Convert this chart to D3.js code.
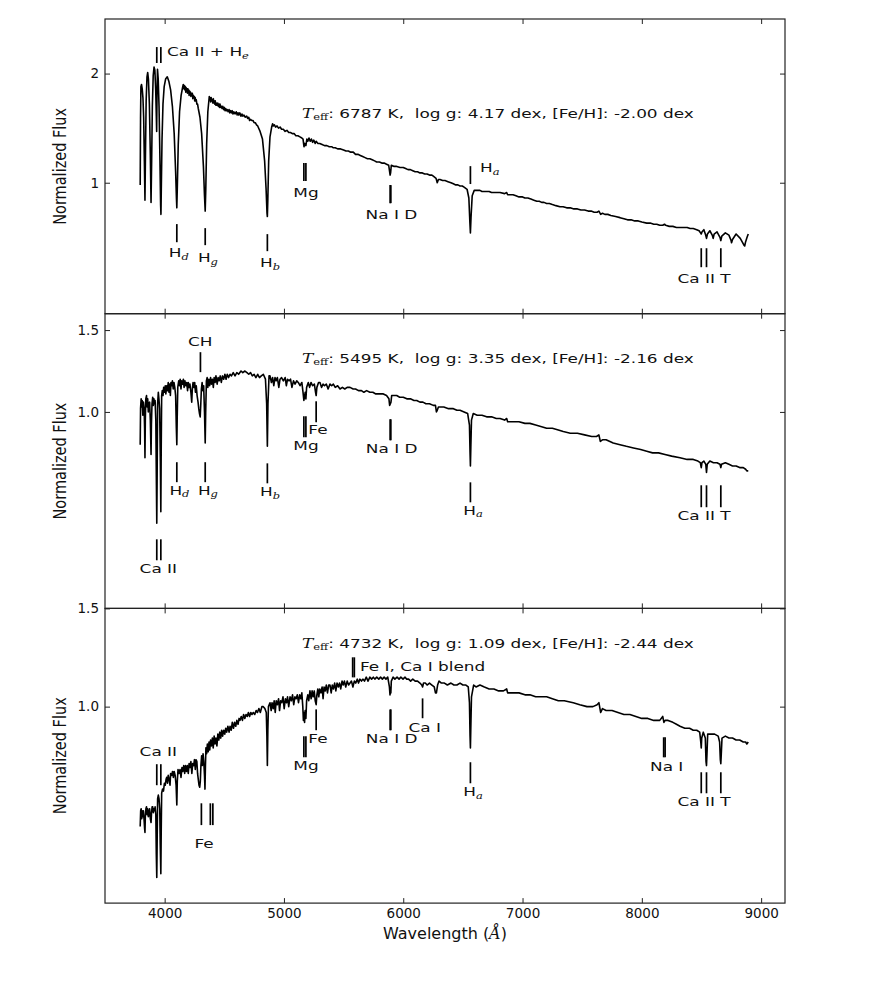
<!DOCTYPE html>
<html>
<head>
<meta charset="utf-8">
<script src="https://cdn.jsdelivr.net/npm/d3@7"></script>
<style>
  body { margin: 0; background: #fff; }
  text { font-family: "DejaVu Sans", sans-serif; fill: #111; }
</style>
</head>
<body>
<div id="chart"></div>
<script>
// ---- data ----
const waveLimits = [3500, 9200]
const waveTicks = [4000, 5000, 6000, 7000, 8000, 9000]
const fluxLimits = [[-0.2, 2.5], [-0.2, 1.6], [0, 1.5]]
const fluxTicks = [[1, 2], [1.0, 1.5], [1.0, 1.5]]
const fluxTickLabels = [["1", "2"], ["1.0", "1.5"], ["1.0", "1.5"]]

const teff = [6787, 5495, 4732]
const logg = ["4.17", "3.35", "1.09"]
const feh = ["-2.00", "-2.16", "-2.44"]
// where each parameter line starts [wavelength, flux]
const headerAt = [[5151, 1.637], [5151, 1.328], [5151, 1.322]]

// hot star, Teff 6787 K
const spec1 = [[3795,0.98],[3798,1.60],[3801,1.88],[3806,1.90],[3812,1.86],[3818,1.78],[3824,1.60],[3830,1.20],[3835,0.84],[3839,1.25],[3845,1.75],[3852,1.97],[3858,2.01],[3864,1.95],[3872,1.72],[3880,1.25],[3886,0.82],[3891,1.20],[3897,1.70],[3904,1.98],[3911,2.06],[3918,2.03],[3925,1.85],[3930,1.62],[3933,1.47],[3936,1.80],[3940,2.04],[3946,1.95],[3953,1.70],[3960,1.25],[3966,0.80],[3969,0.71],[3972,0.95],[3978,1.40],[3986,1.72],[3996,1.88],[4008,1.95],[4022,1.97],[4035,1.93],[4050,1.85],[4065,1.70],[4080,1.45],[4092,1.10],[4099,0.85],[4102,0.77],[4106,0.95],[4114,1.35],[4125,1.65],[4138,1.80],[4150,1.87],[4156,1.90],[4162,1.86],[4166,1.89],[4170,1.85],[4174,1.88],[4177,1.83],[4181,1.87],[4184,1.84],[4188,1.86],[4191,1.82],[4195,1.86],[4198,1.83],[4202,1.85],[4205,1.80],[4209,1.84],[4212,1.81],[4216,1.83],[4220,1.79],[4224,1.82],[4228,1.80],[4232,1.82],[4236,1.77],[4240,1.80],[4245,1.78],[4249,1.79],[4252,1.75],[4256,1.78],[4260,1.75],[4265,1.76],[4270,1.72],[4276,1.72],[4282,1.68],[4296,1.60],[4310,1.45],[4325,1.15],[4334,0.88],[4340,0.74],[4345,0.95],[4352,1.35],[4362,1.65],[4374,1.79],[4378,1.76],[4381,1.78],[4386,1.74],[4390,1.78],[4395,1.75],[4400,1.76],[4404,1.73],[4408,1.77],[4412,1.73],[4415,1.75],[4420,1.72],[4424,1.75],[4429,1.71],[4433,1.73],[4440,1.71],[4445,1.73],[4450,1.70],[4455,1.72],[4460,1.69],[4464,1.72],[4470,1.69],[4475,1.70],[4481,1.68],[4487,1.70],[4494,1.67],[4500,1.69],[4506,1.66],[4512,1.68],[4518,1.66],[4525,1.67],[4532,1.65],[4540,1.67],[4546,1.64],[4552,1.66],[4560,1.64],[4566,1.66],[4573,1.63],[4580,1.65],[4590,1.63],[4600,1.65],[4608,1.62],[4615,1.64],[4622,1.62],[4630,1.64],[4640,1.61],[4648,1.63],[4656,1.61],[4665,1.62],[4676,1.60],[4688,1.61],[4696,1.59],[4705,1.60],[4712,1.57],[4720,1.58],[4730,1.57],[4740,1.57],[4750,1.55],[4760,1.55],[4770,1.53],[4780,1.52],[4800,1.47],[4820,1.40],[4838,1.20],[4850,0.95],[4858,0.72],[4861,0.69],[4865,0.85],[4872,1.20],[4883,1.42],[4897,1.51],[4905,1.54],[4911,1.52],[4920,1.53],[4930,1.51],[4942,1.52],[4955,1.50],[4968,1.51],[4980,1.49],[4995,1.49],[5010,1.47],[5025,1.48],[5040,1.46],[5055,1.46],[5070,1.45],[5085,1.45],[5100,1.43],[5117,1.43],[5134,1.42],[5150,1.41],[5160,1.40],[5168,1.33],[5175,1.36],[5184,1.34],[5192,1.40],[5200,1.38],[5210,1.41],[5220,1.38],[5230,1.40],[5240,1.37],[5250,1.39],[5262,1.36],[5270,1.38],[5285,1.36],[5300,1.36],[5320,1.35],[5340,1.34],[5360,1.34],[5380,1.33],[5400,1.33],[5414,1.32],[5430,1.32],[5450,1.31],[5475,1.31],[5500,1.30],[5520,1.29],[5540,1.29],[5560,1.28],[5581,1.28],[5600,1.26],[5620,1.26],[5640,1.25],[5660,1.24],[5680,1.23],[5700,1.22],[5720,1.22],[5740,1.21],[5760,1.20],[5777,1.19],[5800,1.19],[5820,1.18],[5840,1.18],[5860,1.17],[5878,1.16],[5886,1.10],[5890,1.07],[5894,1.09],[5900,1.16],[5920,1.15],[5940,1.15],[5973,1.14],[6000,1.14],[6020,1.13],[6040,1.12],[6060,1.12],[6080,1.11],[6100,1.10],[6120,1.10],[6140,1.09],[6160,1.09],[6180,1.08],[6200,1.08],[6220,1.07],[6240,1.07],[6252,1.06],[6275,1.04],[6285,1.00],[6295,1.03],[6308,1.03],[6330,1.02],[6350,1.02],[6375,1.01],[6400,1.00],[6420,0.99],[6440,0.98],[6458,0.98],[6476,0.97],[6495,0.97],[6510,0.96],[6535,0.94],[6550,0.86],[6558,0.65],[6563,0.54],[6568,0.68],[6578,0.88],[6595,0.93],[6616,0.93],[6643,0.93],[6660,0.92],[6680,0.92],[6700,0.92],[6720,0.92],[6740,0.91],[6760,0.91],[6785,0.91],[6811,0.91],[6850,0.90],[6867,0.91],[6875,0.89],[6900,0.89],[6920,0.89],[6945,0.88],[6970,0.87],[7000,0.87],[7020,0.86],[7045,0.86],[7070,0.85],[7095,0.84],[7120,0.83],[7140,0.83],[7160,0.82],[7180,0.82],[7202,0.81],[7225,0.81],[7250,0.80],[7280,0.79],[7314,0.78],[7340,0.78],[7370,0.77],[7400,0.77],[7430,0.76],[7460,0.76],[7490,0.75],[7520,0.75],[7550,0.74],[7575,0.74],[7600,0.73],[7625,0.73],[7640,0.74],[7655,0.71],[7670,0.72],[7690,0.71],[7715,0.71],[7740,0.70],[7780,0.69],[7817,0.68],[7850,0.67],[7880,0.66],[7910,0.66],[7940,0.65],[7970,0.65],[8000,0.64],[8041,0.63],[8070,0.63],[8100,0.62],[8125,0.62],[8150,0.61],[8175,0.61],[8190,0.62],[8200,0.61],[8230,0.60],[8260,0.60],[8290,0.59],[8320,0.59],[8350,0.59],[8380,0.59],[8405,0.58],[8431,0.58],[8460,0.57],[8480,0.56],[8492,0.54],[8498,0.53],[8505,0.55],[8520,0.57],[8535,0.52],[8542,0.49],[8550,0.53],[8570,0.56],[8590,0.52],[8598,0.49],[8606,0.53],[8630,0.55],[8655,0.50],[8662,0.47],[8670,0.51],[8700,0.54],[8730,0.52],[8748,0.47],[8752,0.45],[8760,0.48],[8790,0.53],[8825,0.49],[8855,0.43],[8862,0.42],[8870,0.46],[8882,0.50],[8892,0.53]]

// Teff 5495 K
const spec2 = [[3795,0.80],[3798,1.02],[3803,1.08],[3808,1.03],[3812,1.07],[3817,0.98],[3822,1.06],[3828,1.02],[3832,0.90],[3835,0.72],[3838,0.95],[3842,1.08],[3848,1.10],[3853,1.03],[3858,1.08],[3863,1.00],[3868,1.05],[3874,1.06],[3880,0.95],[3886,0.74],[3889,0.92],[3894,1.05],[3900,1.09],[3905,1.04],[3910,1.08],[3915,1.05],[3920,1.07],[3926,0.95],[3931,0.55],[3934,0.32],[3937,0.60],[3941,1.05],[3947,1.12],[3952,1.08],[3958,1.02],[3964,0.70],[3968,0.39],[3971,0.75],[3975,1.10],[3980,1.13],[3986,1.10],[3992,1.15],[3998,1.12],[4005,1.16],[4010,1.11],[4017,1.16],[4023,1.13],[4030,1.18],[4036,1.12],[4043,1.17],[4048,1.10],[4053,1.18],[4059,1.16],[4065,1.19],[4072,1.14],[4078,1.18],[4085,1.15],[4092,1.10],[4098,0.90],[4102,0.80],[4105,0.95],[4110,1.15],[4118,1.19],[4125,1.16],[4130,1.20],[4137,1.14],[4143,1.19],[4150,1.17],[4157,1.20],[4163,1.15],[4170,1.19],[4177,1.16],[4185,1.18],[4192,1.13],[4198,1.18],[4205,1.15],[4212,1.17],[4220,1.12],[4227,1.06],[4232,1.14],[4238,1.18],[4245,1.15],[4252,1.18],[4258,1.12],[4265,1.16],[4272,1.10],[4280,1.06],[4286,1.02],[4292,0.99],[4298,0.97],[4303,1.05],[4308,1.14],[4314,1.18],[4320,1.13],[4327,1.16],[4334,1.00],[4340,0.81],[4344,1.00],[4350,1.19],[4356,1.21],[4362,1.15],[4370,1.20],[4377,1.16],[4385,1.21],[4392,1.17],[4400,1.20],[4408,1.15],[4415,1.21],[4423,1.18],[4430,1.22],[4440,1.17],[4448,1.21],[4457,1.19],[4466,1.22],[4475,1.18],[4485,1.22],[4495,1.20],[4505,1.23],[4515,1.20],[4525,1.23],[4536,1.21],[4548,1.23],[4560,1.22],[4575,1.24],[4590,1.22],[4605,1.24],[4620,1.23],[4640,1.25],[4655,1.24],[4673,1.25],[4690,1.24],[4705,1.23],[4720,1.24],[4735,1.22],[4750,1.23],[4765,1.21],[4780,1.23],[4795,1.21],[4810,1.22],[4827,1.23],[4845,1.20],[4855,1.05],[4861,0.79],[4866,1.05],[4875,1.22],[4883,1.22],[4895,1.18],[4905,1.21],[4915,1.16],[4925,1.21],[4935,1.19],[4945,1.21],[4957,1.15],[4967,1.20],[4980,1.21],[4995,1.19],[5010,1.21],[5020,1.16],[5030,1.20],[5042,1.19],[5055,1.20],[5067,1.15],[5080,1.19],[5093,1.17],[5107,1.19],[5120,1.18],[5135,1.16],[5150,1.18],[5160,1.12],[5167,1.07],[5172,1.09],[5178,1.12],[5184,1.08],[5190,1.15],[5204,1.18],[5215,1.15],[5227,1.18],[5240,1.16],[5255,1.17],[5265,1.12],[5270,1.10],[5276,1.15],[5290,1.18],[5302,1.18],[5315,1.15],[5328,1.17],[5340,1.16],[5355,1.17],[5370,1.14],[5386,1.17],[5400,1.16],[5414,1.17],[5430,1.15],[5450,1.16],[5470,1.14],[5490,1.15],[5510,1.14],[5530,1.15],[5554,1.15],[5580,1.14],[5600,1.14],[5625,1.13],[5650,1.13],[5670,1.12],[5693,1.13],[5720,1.12],[5745,1.12],[5770,1.11],[5800,1.11],[5833,1.11],[5860,1.10],[5880,1.08],[5886,1.04],[5892,1.05],[5897,1.06],[5903,1.10],[5920,1.10],[5945,1.10],[5970,1.09],[6000,1.09],[6030,1.08],[6060,1.08],[6090,1.07],[6113,1.07],[6140,1.06],[6165,1.06],[6190,1.05],[6220,1.05],[6252,1.04],[6270,1.04],[6278,1.00],[6285,1.01],[6295,1.03],[6308,1.03],[6340,1.03],[6380,1.02],[6420,1.02],[6450,1.01],[6476,1.01],[6510,1.00],[6540,0.99],[6555,0.92],[6560,0.75],[6563,0.67],[6567,0.80],[6572,0.95],[6587,0.99],[6620,0.98],[6660,0.98],[6699,0.97],[6740,0.97],[6780,0.96],[6811,0.96],[6850,0.95],[6867,0.96],[6875,0.94],[6920,0.94],[6970,0.94],[7020,0.93],[7062,0.93],[7110,0.92],[7160,0.91],[7202,0.90],[7250,0.90],[7300,0.89],[7341,0.88],[7400,0.87],[7460,0.87],[7520,0.86],[7580,0.85],[7620,0.85],[7640,0.86],[7652,0.82],[7670,0.83],[7700,0.83],[7760,0.81],[7817,0.80],[7870,0.79],[7930,0.78],[7990,0.77],[8041,0.76],[8090,0.75],[8140,0.75],[8194,0.74],[8250,0.73],[8320,0.72],[8380,0.71],[8431,0.71],[8470,0.70],[8490,0.69],[8498,0.66],[8504,0.69],[8520,0.70],[8536,0.68],[8542,0.63],[8548,0.68],[8570,0.70],[8600,0.69],[8630,0.69],[8655,0.68],[8662,0.66],[8668,0.68],[8700,0.69],[8730,0.68],[8760,0.67],[8790,0.67],[8820,0.66],[8850,0.66],[8870,0.65],[8880,0.64],[8892,0.64]]

// giant, Teff 4732 K
const spec3 = [[3795,0.39],[3799,0.47],[3803,0.48],[3808,0.43],[3812,0.47],[3817,0.44],[3822,0.47],[3828,0.42],[3832,0.38],[3835,0.36],[3838,0.44],[3843,0.48],[3848,0.49],[3853,0.45],[3858,0.48],[3863,0.44],[3869,0.45],[3874,0.48],[3880,0.43],[3886,0.41],[3890,0.46],[3895,0.49],[3900,0.49],[3905,0.46],[3910,0.48],[3915,0.47],[3920,0.49],[3926,0.45],[3930,0.25],[3934,0.13],[3937,0.30],[3941,0.53],[3947,0.55],[3953,0.53],[3959,0.48],[3963,0.30],[3968,0.15],[3971,0.35],[3975,0.56],[3982,0.58],[3990,0.57],[3998,0.61],[4005,0.60],[4012,0.63],[4017,0.64],[4024,0.61],[4030,0.65],[4038,0.63],[4045,0.60],[4050,0.66],[4059,0.65],[4066,0.67],[4073,0.64],[4080,0.67],[4088,0.65],[4096,0.60],[4102,0.50],[4106,0.62],[4112,0.68],[4120,0.66],[4129,0.68],[4137,0.64],[4145,0.69],[4152,0.67],[4160,0.70],[4168,0.66],[4175,0.70],[4183,0.67],[4190,0.70],[4198,0.66],[4205,0.71],[4212,0.69],[4220,0.72],[4228,0.66],[4235,0.71],[4243,0.70],[4250,0.73],[4257,0.68],[4263,0.73],[4270,0.72],[4276,0.66],[4282,0.63],[4288,0.60],[4294,0.59],[4299,0.62],[4304,0.70],[4310,0.75],[4316,0.70],[4322,0.76],[4328,0.72],[4334,0.65],[4338,0.58],[4342,0.70],[4346,0.79],[4352,0.76],[4358,0.81],[4365,0.77],[4372,0.82],[4378,0.78],[4385,0.83],[4392,0.80],[4400,0.84],[4407,0.79],[4415,0.85],[4422,0.81],[4430,0.84],[4438,0.80],[4446,0.86],[4454,0.83],[4462,0.87],[4470,0.84],[4478,0.88],[4486,0.85],[4495,0.88],[4504,0.86],[4512,0.89],[4520,0.87],[4530,0.90],[4540,0.87],[4548,0.90],[4558,0.88],[4567,0.92],[4577,0.89],[4586,0.92],[4596,0.90],[4605,0.93],[4615,0.91],[4624,0.94],[4632,0.93],[4642,0.95],[4652,0.93],[4662,0.96],[4672,0.94],[4682,0.96],[4692,0.95],[4702,0.97],[4712,0.95],[4722,0.97],[4732,0.96],[4743,0.97],[4755,0.96],[4767,0.98],[4778,0.97],[4790,0.99],[4802,0.97],[4815,1.00],[4827,1.00],[4840,0.99],[4852,0.97],[4857,0.85],[4861,0.70],[4865,0.88],[4870,1.00],[4883,1.02],[4893,0.98],[4900,1.02],[4910,0.99],[4918,1.03],[4927,0.97],[4935,1.03],[4945,1.01],[4955,1.04],[4963,0.98],[4972,1.03],[4982,1.02],[4992,1.05],[5002,0.99],[5012,1.04],[5022,1.02],[5030,1.05],[5040,1.00],[5051,1.05],[5062,1.03],[5072,1.06],[5082,1.01],[5092,1.05],[5102,1.04],[5112,1.06],[5122,1.02],[5132,1.06],[5142,1.04],[5150,1.07],[5158,1.00],[5163,0.93],[5168,0.97],[5173,0.92],[5178,0.98],[5184,0.94],[5190,1.03],[5200,1.06],[5208,1.03],[5218,1.08],[5228,1.04],[5236,1.08],[5245,1.05],[5254,1.08],[5262,1.03],[5270,1.01],[5276,1.06],[5284,1.09],[5292,1.05],[5300,1.09],[5310,1.07],[5320,1.10],[5328,1.04],[5336,1.10],[5346,1.08],[5355,1.11],[5365,1.07],[5375,1.11],[5386,1.11],[5396,1.07],[5405,1.11],[5415,1.09],[5425,1.12],[5435,1.08],[5445,1.12],[5456,1.10],[5466,1.12],[5476,1.09],[5487,1.13],[5497,1.11],[5507,1.13],[5518,1.10],[5530,1.13],[5542,1.11],[5554,1.12],[5566,1.13],[5578,1.10],[5590,1.13],[5602,1.12],[5615,1.14],[5625,1.12],[5637,1.14],[5650,1.13],[5662,1.14],[5675,1.13],[5690,1.15],[5705,1.13],[5720,1.15],[5735,1.14],[5749,1.15],[5762,1.14],[5778,1.15],[5795,1.14],[5810,1.15],[5825,1.14],[5840,1.15],[5855,1.14],[5870,1.15],[5884,1.10],[5889,1.06],[5893,1.09],[5896,1.07],[5900,1.13],[5915,1.15],[5930,1.14],[5948,1.15],[5965,1.14],[5980,1.15],[5998,1.14],[6015,1.15],[6029,1.14],[6045,1.14],[6062,1.13],[6080,1.14],[6100,1.13],[6120,1.13],[6140,1.12],[6155,1.11],[6162,1.10],[6170,1.12],[6185,1.12],[6200,1.11],[6220,1.12],[6240,1.11],[6260,1.10],[6270,1.07],[6278,1.07],[6288,1.11],[6300,1.13],[6320,1.12],[6345,1.12],[6370,1.11],[6400,1.12],[6425,1.11],[6450,1.11],[6476,1.12],[6500,1.11],[6525,1.11],[6545,1.10],[6555,1.02],[6560,0.85],[6563,0.79],[6566,0.88],[6572,1.05],[6590,1.11],[6610,1.10],[6643,1.11],[6680,1.10],[6720,1.09],[6760,1.09],[6800,1.08],[6840,1.08],[6867,1.09],[6875,1.07],[6920,1.07],[6970,1.07],[7020,1.06],[7062,1.06],[7110,1.05],[7160,1.05],[7202,1.05],[7250,1.04],[7300,1.03],[7350,1.03],[7425,1.02],[7480,1.01],[7540,1.00],[7590,1.00],[7625,1.01],[7640,1.02],[7655,0.97],[7670,0.99],[7700,0.98],[7750,0.98],[7800,0.97],[7850,0.96],[7900,0.96],[7950,0.95],[8000,0.94],[8050,0.94],[8100,0.93],[8150,0.93],[8175,0.95],[8185,0.92],[8195,0.93],[8220,0.93],[8260,0.92],[8290,0.91],[8320,0.90],[8360,0.89],[8400,0.89],[8431,0.88],[8460,0.88],[8485,0.87],[8494,0.82],[8498,0.79],[8502,0.84],[8515,0.87],[8532,0.84],[8538,0.72],[8542,0.70],[8546,0.76],[8552,0.86],[8580,0.86],[8610,0.86],[8640,0.85],[8652,0.82],[8658,0.73],[8662,0.71],[8666,0.76],[8672,0.84],[8700,0.85],[8730,0.84],[8760,0.84],[8790,0.83],[8820,0.83],[8850,0.82],[8870,0.82],[8880,0.81],[8892,0.82]]

// line markers: wavelengths of the ticks and the flux span they cover
const marks1 = [
  { w: [3934, 3968], f: [2.097, 2.243] },
  { w: [4102], f: [0.455, 0.621] },
  { w: [4340], f: [0.428, 0.584] },
  { w: [4861], f: [0.373, 0.529] },
  { w: [5167, 5184], f: [1.015, 1.180] },
  { w: [5890, 5896], f: [0.813, 0.978] },
  { w: [6563], f: [0.988, 1.152] },
  { w: [8498, 8542, 8662], f: [0.226, 0.400] }
]
const marks2 = [
  { w: [4300], f: [1.243, 1.365] },
  { w: [4102], f: [0.571, 0.693] },
  { w: [4340], f: [0.571, 0.693] },
  { w: [4861], f: [0.564, 0.686] },
  { w: [5167, 5184], f: [0.845, 0.974] },
  { w: [5270], f: [0.937, 1.065] },
  { w: [5890, 5896], f: [0.827, 0.955] },
  { w: [6563], f: [0.448, 0.570] },
  { w: [3934, 3968], f: [0.094, 0.222] },
  { w: [8498, 8542, 8662], f: [0.418, 0.552] }
]
const marks3 = [
  { w: [5576, 5590], f: [1.149, 1.251] },
  { w: [3934, 3968], f: [0.600, 0.707] },
  { w: [4308, 4383, 4404], f: [0.397, 0.508] },
  { w: [5167, 5184], f: [0.742, 0.849] },
  { w: [5270], f: [0.880, 0.986] },
  { w: [5890, 5896], f: [0.880, 0.986] },
  { w: [6162], f: [0.941, 1.042] },
  { w: [6563], f: [0.610, 0.717] },
  { w: [8183, 8195], f: [0.742, 0.844] },
  { w: [8498, 8542, 8662], f: [0.559, 0.666] }
]

// line labels: text, optional math subscript, anchor point [wavelength, flux]
const labels1 = [
  { t: "Ca II + H", sub: "e", w: 4020, f: 2.197, a: "start" },
  { t: "H", sub: "d", w: 4118, f: 0.355 },
  { t: "H", sub: "g", w: 4363, f: 0.310 },
  { t: "H", sub: "b", w: 4883, f: 0.263 },
  { t: "Mg", w: 5185, f: 0.905 },
  { t: "Na I D", w: 5901, f: 0.703 },
  { t: "H", sub: "a", w: 6643, f: 1.134, a: "start" },
  { t: "Ca II T", w: 8521, f: 0.125 }
]
const labels2 = [
  { t: "CH", w: 4299, f: 1.426 },
  { t: "H", sub: "d", w: 4124, f: 0.521 },
  { t: "H", sub: "g", w: 4363, f: 0.521 },
  { t: "H", sub: "b", w: 4883, f: 0.511 },
  { t: "Mg", w: 5185, f: 0.796 },
  { t: "Fe", w: 5285, f: 0.892 },
  { t: "Na I D", w: 5903, f: 0.776 },
  { t: "H", sub: "a", w: 6585, f: 0.399 },
  { t: "Ca II", w: 3947, f: 0.043 },
  { t: "Ca II T", w: 8521, f: 0.369 }
]
const labels3 = [
  { t: "Fe I, Ca I blend", w: 5637, f: 1.201, a: "start" },
  { t: "Ca II", w: 3947, f: 0.769 },
  { t: "Fe", w: 4330, f: 0.304 },
  { t: "Mg", w: 5185, f: 0.698 },
  { t: "Fe", w: 5285, f: 0.837 },
  { t: "Na I D", w: 5903, f: 0.837 },
  { t: "Ca I", w: 6180, f: 0.893 },
  { t: "H", sub: "a", w: 6585, f: 0.566 },
  { t: "Na I", w: 8208, f: 0.696 },
  { t: "Ca II T", w: 8521, f: 0.515 }
]

const specs = [spec1, spec2, spec3]
const marks = [marks1, marks2, marks3]
const labels = [labels1, labels2, labels3]

// ---- layout ----
const WIDTH = 872, HEIGHT = 981
const MARGIN = { TOP: 19, LEFT: 105, RIGHT: 87 }
const PLOT_W = WIDTH - MARGIN.LEFT - MARGIN.RIGHT
const PANEL_H = 294.7
const SX = 1.3      // the picture's text is stretched sideways
const FS = 13

const svg = d3.select("#chart").append("svg")
    .attr("width", WIDTH)
    .attr("height", HEIGHT)

const x = d3.scaleLinear().domain(waveLimits).range([MARGIN.LEFT, MARGIN.LEFT + PLOT_W])

function addLabel(g, px, py, text, sub, anchor, size, sx) {
  const t = g.append("g")
      .attr("transform", `translate(${px},${py}) scale(${sx},1)`)
    .append("text")
      .attr("text-anchor", anchor || "middle")
      .attr("dominant-baseline", "central")
      .style("font-size", size + "px")
  t.append("tspan").text(text)
  if (sub) {
    t.append("tspan")
      .attr("dy", size * 0.28)
      .style("font-family", "'DejaVu Serif', serif")
      .style("font-style", "italic")
      .style("font-size", (size * 0.68) + "px")
      .text(sub)
  }
  return t
}

specs.forEach((spec, i) => {
  const top = MARGIN.TOP + i * PANEL_H
  const y = d3.scaleLinear().domain(fluxLimits[i]).range([top + PANEL_H, top])
  const g = svg.append("g")

  // ticks, inward on all four sides
  g.append("g")
      .attr("transform", `translate(0,${top + PANEL_H})`)
      .call(d3.axisBottom(x).tickValues(waveTicks).tickSize(-5).tickPadding(5)
        .tickFormat(i === 2 ? d3.format("d") : ""))
  g.append("g")
      .attr("transform", `translate(0,${top})`)
      .call(d3.axisTop(x).tickValues(waveTicks).tickSize(-5).tickFormat(""))
  g.append("g")
      .attr("transform", `translate(${MARGIN.LEFT},0)`)
      .call(d3.axisLeft(y).tickValues(fluxTicks[i]).tickSize(-5).tickPadding(6)
        .tickFormat((d, k) => fluxTickLabels[i][k]))
  g.append("g")
      .attr("transform", `translate(${MARGIN.LEFT + PLOT_W},0)`)
      .call(d3.axisRight(y).tickValues(fluxTicks[i]).tickSize(-5).tickFormat(""))
  g.selectAll(".domain").remove()
  g.selectAll(".tick line").attr("stroke", "#222")
  g.selectAll(".tick text")
      .attr("fill", "#111")
      .style("font-family", "'DejaVu Sans', sans-serif")
      .style("font-size", "13.5px")

  // frame
  g.append("rect")
      .attr("x", MARGIN.LEFT)
      .attr("y", top)
      .attr("width", PLOT_W)
      .attr("height", PANEL_H)
      .attr("fill", "none")
      .attr("stroke", "#222")
      .attr("stroke-width", 1.2)

  // spectrum
  const line = d3.line().x(d => x(d[0])).y(d => y(d[1]))
  g.append("path")
      .datum(spec)
      .attr("d", line)
      .attr("fill", "none")
      .attr("stroke", "#000")
      .attr("stroke-width", 1.6)
      .attr("stroke-linejoin", "round")

  // line markers
  marks[i].forEach(m => {
    m.w.forEach(w => {
      g.append("line")
          .attr("x1", x(w)).attr("x2", x(w))
          .attr("y1", y(m.f[0])).attr("y2", y(m.f[1]))
          .attr("stroke", "#000")
          .attr("stroke-width", 1.7)
    })
  })

  labels[i].forEach(l => addLabel(g, x(l.w), y(l.f), l.t, l.sub, l.a, FS, SX))

  // stellar parameters
  const hd = g.append("g")
      .attr("transform", `translate(${x(headerAt[i][0])},${y(headerAt[i][1])}) scale(${SX},1)`)
    .append("text")
      .attr("dominant-baseline", "central")
      .style("font-size", FS + "px")
  hd.append("tspan")
      .style("font-family", "'DejaVu Serif', serif")
      .style("font-style", "italic")
      .text("T")
  hd.append("tspan")
      .attr("dy", FS * 0.25)
      .style("font-family", "'DejaVu Serif', serif")
      .style("font-size", (FS * 0.68) + "px")
      .text("eff")
  hd.append("tspan")
      .attr("dy", -FS * 0.25)
      .attr("xml:space", "preserve")
      .text(`: ${teff[i]} K,  log g: ${logg[i]} dex, [Fe/H]: ${feh[i]} dex`)

  // y axis title
  svg.append("text")
      .attr("transform", `translate(60,${top + PANEL_H / 2}) rotate(-90) scale(1,1.25)`)
      .attr("text-anchor", "middle")
      .attr("dominant-baseline", "central")
      .style("font-size", "14.5px")
      .text("Normalized Flux")
})

// x axis title
const xt = svg.append("text")
    .attr("x", MARGIN.LEFT + PLOT_W / 2)
    .attr("y", 933)
    .attr("text-anchor", "middle")
    .attr("dominant-baseline", "central")
    .style("font-size", "16px")
xt.append("tspan").text("Wavelength (")
xt.append("tspan")
    .style("font-family", "'DejaVu Serif', serif")
    .style("font-style", "italic")
    .text("Å")
xt.append("tspan").text(")")
</script>
</body>
</html>
